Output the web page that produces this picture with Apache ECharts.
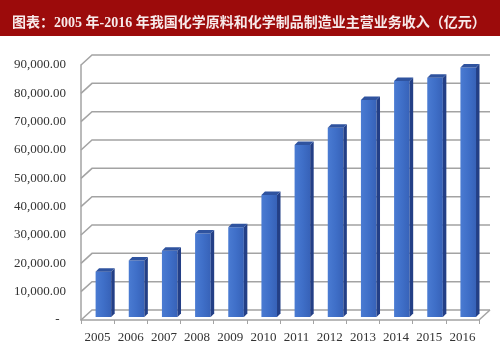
<!DOCTYPE html>
<html>
<head>
<meta charset="utf-8">
<script src="https://cdn.jsdelivr.net/npm/echarts@6/dist/echarts.min.js"></script>
<style>
html,body{margin:0;padding:0;background:#fff;}
#c{width:500px;height:357px;}
</style>
</head>
<body>
<div id="c"></div>
<script>
const titleText = '图表：2005 年-2016 年我国化学原料和化学制品制造业主营业务收入（亿元）';
const years = ['2005','2006','2007','2008','2009','2010','2011','2012','2013','2014','2015','2016'];
const revenue = [16000, 19900, 23400, 29500, 31700, 43100, 60700, 66800, 76600, 83300, 84400, 88100];
const yTicks = [0, 10000, 20000, 30000, 40000, 50000, 60000, 70000, 80000, 90000];

const chart = echarts.init(document.getElementById('c'), null, {renderer: 'canvas'});
const serif = '"Liberation Serif", "Times New Roman", serif';
const gridColor = '#a3a3a3';
const DX = 11, DY = 10;

const barData = revenue.map((v, i) => [i, v]);
const tickData = yTicks.map(v => [0, v]);

function fmt(v) {
  if (v === 0) return '-  ';
  return v.toLocaleString('en-US') + '.00';
}

const option = {
  animation: false,
  backgroundColor: '#ffffff',
  graphic: [
    {type: 'rect', left: 0, top: 0, shape: {width: 500, height: 36}, style: {fill: '#9c0b0b'}, z: 0}
  ],
  title: {
    text: titleText,
    left: 7,
    top: 11,
    textStyle: {
      fontFamily: '"Liberation Serif", "Noto Sans CJK SC", serif',
      fontWeight: 'bold',
      fontSize: 14,
      color: '#f7eaea'
    },
    z: 10
  },
  grid: {left: 81, right: 21, top: 65, bottom: 37},
  xAxis: {
    type: 'category',
    data: years,
    axisLine: {show: true, lineStyle: {color: gridColor, width: 1.5}},
    axisTick: {show: true, interval: 0, length: 4, lineStyle: {color: gridColor}},
    axisLabel: {interval: 0, fontFamily: serif, fontSize: 13, color: '#333', margin: 11}
  },
  yAxis: {
    type: 'value',
    min: 0, max: 90000, interval: 10000,
    axisLine: {show: true, lineStyle: {color: gridColor, width: 1.5}},
    axisTick: {show: false},
    splitLine: {show: false},
    axisLabel: {fontFamily: serif, fontSize: 13, color: '#333', margin: 15, formatter: fmt}
  },
  series: [
    {
      type: 'custom',
      data: tickData,
      z: 1,
      silent: true,
      renderItem: function (params, api) {
        const v = api.value(1);
        const bw = api.size([1, 0])[0];
        const pl = api.coord([0, v]);
        const pr = api.coord([years.length - 1, v]);
        const xl = pl[0] - bw / 2;
        const xr = pr[0] + bw / 2;
        const y = pl[1];
        const children = [{
          type: 'polyline',
          shape: {points: [[xl, y], [xl + DX, y - DY], [xr + DX, y - DY]]},
          style: {stroke: gridColor, lineWidth: 1.5, fill: null}
        }];
        if (v === 0) {
          children.push({
            type: 'line',
            shape: {x1: xr, y1: y, x2: xr + DX, y2: y - DY},
            style: {stroke: gridColor, lineWidth: 1.5}
          });
        }
        return {type: 'group', children: children};
      }
    },
    {
      type: 'custom',
      data: barData,
      z: 5,
      renderItem: function (params, api) {
        const i = api.value(0);
        const v = api.value(1);
        const top = api.coord([i, v]);
        const base = api.coord([i, 0]);
        const bw = api.size([1, 0])[0];
        const fl = top[0] - bw * 0.06;
        const w = bw * 0.47;
        const d = 3.5;
        const lift = 3;
        const ty = top[1] - lift;
        const by = base[1] - lift;
        return {
          type: 'group',
          children: [
            {
              type: 'rect',
              shape: {x: fl, y: ty, width: w, height: by - ty},
              style: {
                fill: new echarts.graphic.LinearGradient(0, 0, 1, 0, [
                  {offset: 0, color: '#4a7bd2'},
                  {offset: 0.5, color: '#3f6fc8'},
                  {offset: 1, color: '#3762b8'}
                ])
              }
            },
            {
              type: 'polygon',
              shape: {points: [[fl + w, ty], [fl + w + d, ty - d], [fl + w + d, by - d], [fl + w, by]]},
              style: {fill: '#233f86'}
            },
            {
              type: 'polygon',
              shape: {points: [[fl, ty], [fl + d, ty - d], [fl + w + d, ty - d], [fl + w, ty]]},
              style: {fill: '#2f539f'}
            }
          ]
        };
      }
    }
  ]
};
chart.setOption(option);
</script>
</body>
</html>
